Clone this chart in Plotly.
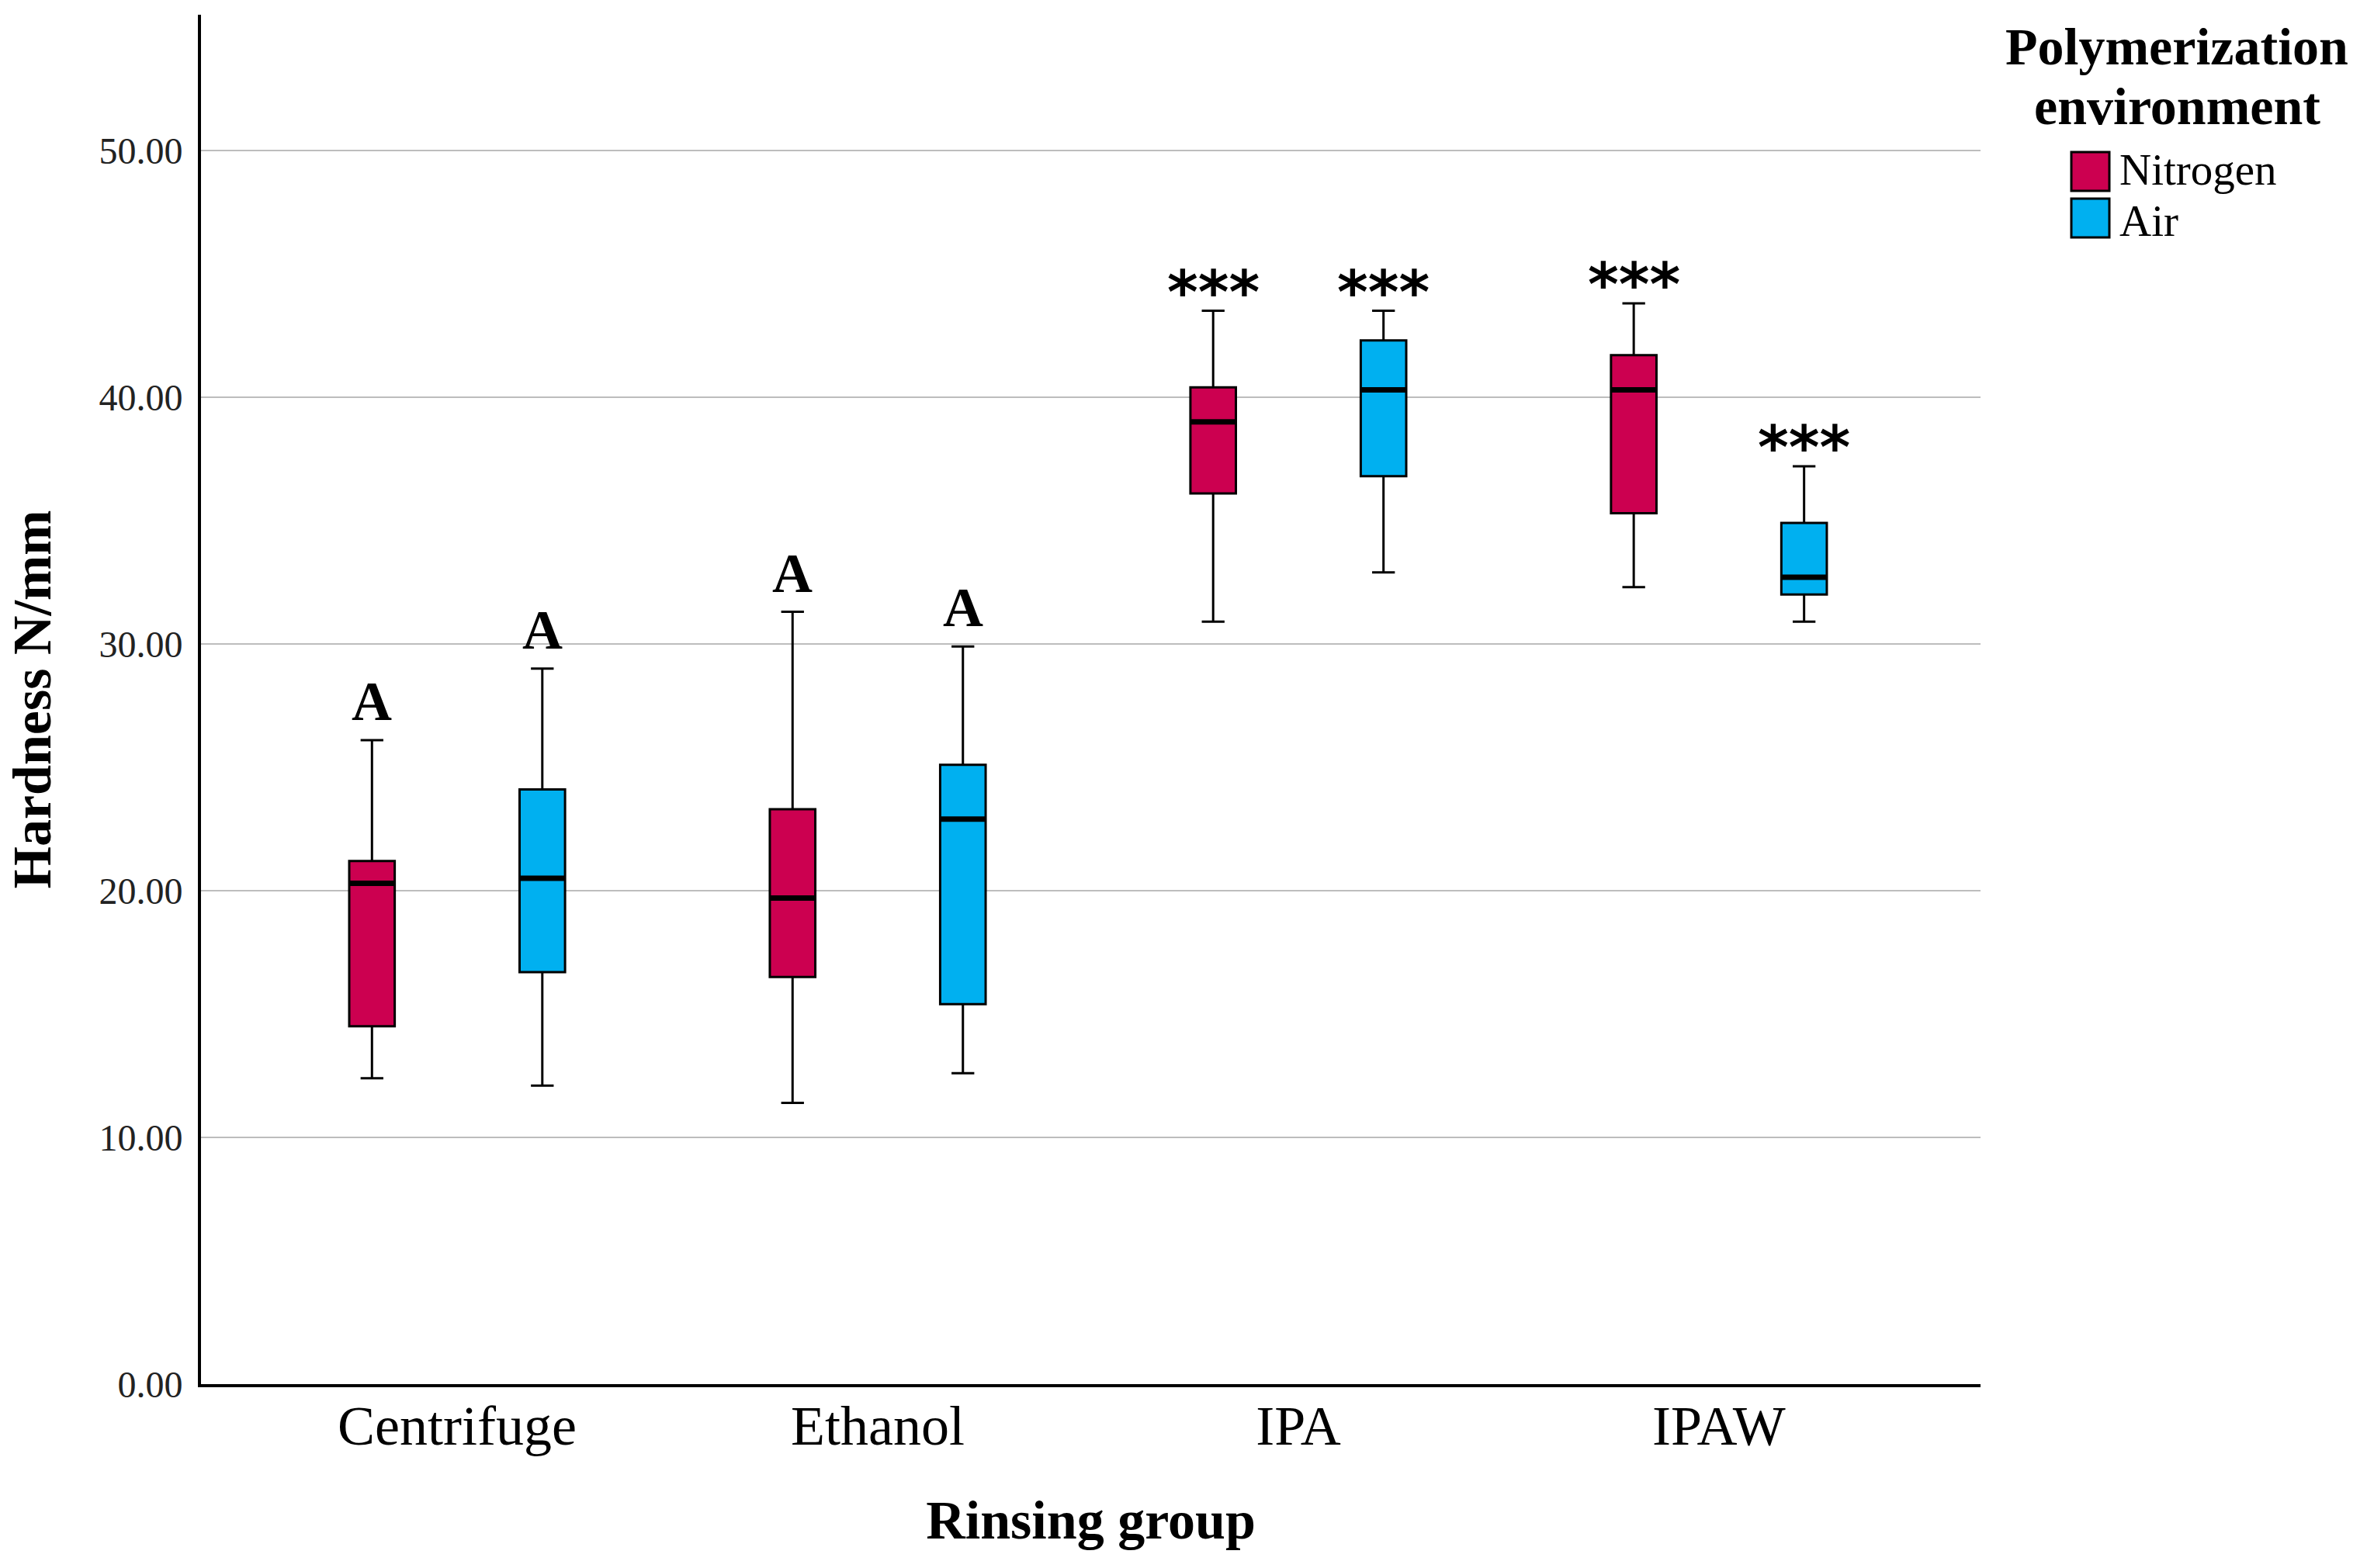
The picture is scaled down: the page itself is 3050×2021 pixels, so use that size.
import plotly.graph_objects as go

# ---------------- data ----------------
categories = ["Centrifuge", "Ethanol", "IPA", "IPAW"]

nitrogen_lower = [12.4, 11.4, 30.9, 32.3]
nitrogen_q1 = [14.5, 16.5, 36.1, 35.3]
nitrogen_median = [20.3, 19.7, 39.0, 40.3]
nitrogen_q3 = [21.2, 23.3, 40.4, 41.7]
nitrogen_upper = [26.1, 31.3, 43.5, 43.8]

air_lower = [12.1, 12.6, 32.9, 30.9]
air_q1 = [16.7, 15.4, 36.8, 32.0]
air_median = [20.5, 22.9, 40.3, 32.7]
air_q3 = [24.1, 25.1, 42.3, 34.9]
air_upper = [29.0, 29.9, 43.5, 37.2]

nitrogen_letters = ["A", "A", "***", "***"]
air_letters = ["A", "A", "***", "***"]

y_tickvals = [0, 10, 20, 30, 40, 50]
series_names = ["Nitrogen", "Air"]
series_colors = ["#CC0050", "#00B0F0"]

# ---------------- layout constants ----------------
W, H = 3050, 2021
ML, MR, MT, MB = 259, 498, 19, 237
PW, PH = W - ML - MR, H - MT - MB
BOXGAP = 0.19
BOXGROUPGAP = 0.733
SERIF = "Liberation Serif"


def px_x(X):
    return (X - ML) / PW


def px_y(Y):
    return (H - MB - Y) / PH


fig = go.Figure()

series = [
    (nitrogen_lower, nitrogen_q1, nitrogen_median, nitrogen_q3, nitrogen_upper),
    (air_lower, air_q1, air_median, air_q3, air_upper),
]

for name, color, (lo, q1, med, q3, up) in zip(series_names, series_colors, series):
    fig.add_trace(go.Box(
        name=name, x=categories, q1=q1, median=med, q3=q3,
        lowerfence=lo, upperfence=up, offsetgroup=name,
        fillcolor=color, line=dict(color="black", width=3),
        whiskerwidth=0.5, boxpoints=False, showlegend=False,
    ))

# thicker median lines (degenerate boxes at the median values)
for name, (lo, q1, med, q3, up) in zip(series_names, series):
    fig.add_trace(go.Box(
        name=name + " median", x=categories, q1=med, median=med, q3=med,
        lowerfence=med, upperfence=med, offsetgroup=name,
        fillcolor="rgba(0,0,0,0)", line=dict(color="black", width=7),
        whiskerwidth=0, boxpoints=False, showlegend=False, hoverinfo="skip",
    ))

# significance letters above the whiskers
offset = (1 - BOXGAP) / 4
annotations = []
for sign, letters, (lo, q1, med, q3, up) in zip([-1, 1], [nitrogen_letters, air_letters], series):
    for i, (lab, top) in enumerate(zip(letters, up)):
        if lab == "A":
            annotations.append(dict(
                x=i + sign * offset, y=top, xref="x", yref="y", text="<b>A</b>",
                showarrow=False, yanchor="bottom", yshift=8,
                font=dict(family=SERIF, size=72, color="black")))
        else:
            annotations.append(dict(
                x=i + sign * offset, y=top, xref="x", yref="y", text="<b>" + lab + "</b>",
                showarrow=False, yanchor="bottom", yshift=-22,
                font=dict(family="DejaVu Sans", size=76, color="black")))

# legend drawn manually (large swatches like the reference)
shapes = []
legend_tops = [196, 256]
text_nudge = [-3, 3]
for name, color, top, nudge in zip(series_names, series_colors, legend_tops, text_nudge):
    shapes.append(dict(type="rect", xref="paper", yref="paper",
                       x0=px_x(2669), x1=px_x(2718), y0=px_y(top), y1=px_y(top + 50),
                       fillcolor=color, line=dict(color="black", width=3)))
    annotations.append(dict(x=px_x(2729), y=px_y(top + 25 + nudge), xref="paper", yref="paper",
                            text=name, showarrow=False, xanchor="left", yanchor="middle",
                            font=dict(family=SERIF, size=57, color="black")))
for txt, yc in zip(["Polymerization", "environment"], [60, 137]):
    annotations.append(dict(x=px_x(2805), y=px_y(yc), xref="paper", yref="paper",
                            text="<b>" + txt + "</b>", showarrow=False,
                            xanchor="center", yanchor="middle",
                            font=dict(family=SERIF, size=68, color="black")))

fig.update_layout(
    width=W, height=H,
    margin=dict(l=ML, r=MR, t=MT, b=MB, pad=0, autoexpand=False),
    paper_bgcolor="white", plot_bgcolor="white",
    boxmode="group", boxgap=BOXGAP, boxgroupgap=BOXGROUPGAP,
    showlegend=False,
    annotations=annotations, shapes=shapes,
    font=dict(family=SERIF, color="black"),
)

fig.update_xaxes(
    type="category", categoryorder="array", categoryarray=categories,
    range=[-0.609, 3.622],
    showline=True, linecolor="black", linewidth=4,
    showgrid=False, ticks="", zeroline=False,
    tickfont=dict(family=SERIF, size=72, color="black"),
    ticklabelstandoff=-12,
    title=dict(text="<b>Rinsing group</b>", standoff=58,
               font=dict(family=SERIF, size=70, color="black")),
    automargin=False,
)
fig.update_yaxes(
    range=[0, 55.5], tickvals=y_tickvals, tickformat=".2f",
    showline=True, linecolor="black", linewidth=4,
    showgrid=True, gridcolor="#BDBDBD", gridwidth=2,
    ticks="", zeroline=False,
    tickfont=dict(family=SERIF, size=48, color="#222222"),
    ticklabelstandoff=10,
    title=dict(text="<b>Hardness N/mm</b>", standoff=40,
               font=dict(family=SERIF, size=70, color="black")),
    automargin=False,
)

fig.write_html("out.html", config={"displayModeBar": False},
               post_script="document.body.style.margin='0';document.body.style.overflow='hidden';")
